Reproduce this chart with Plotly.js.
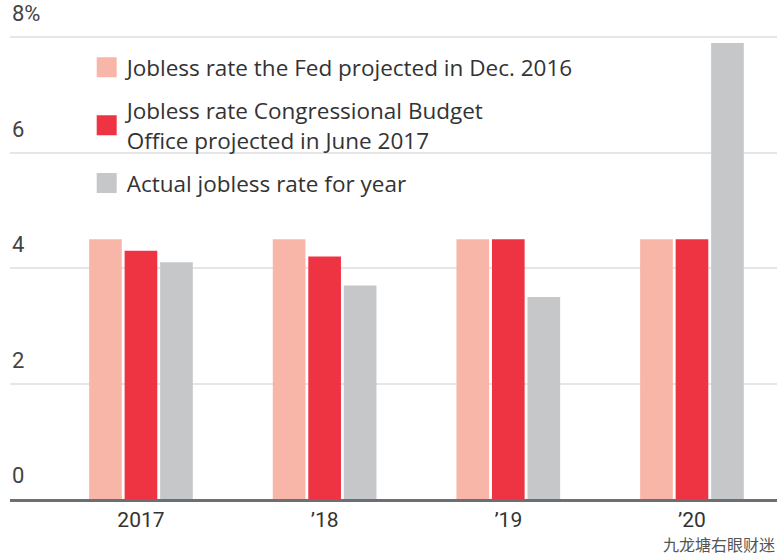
<!DOCTYPE html>
<html><head><meta charset="utf-8">
<script src="https://cdn.plot.ly/plotly-3.0.1.min.js"></script>
<style>html,body{margin:0;padding:0;background:#fff}#chart{width:777px;height:555px}</style>
</head><body><div id="chart"></div>
<script>
const years = ["2017", "’18", "’19", "’20"];
const fedProjected = [4.5, 4.5, 4.5, 4.5];
const cboProjected = [4.3, 4.2, 4.5, 4.5];
const actualRate = [4.1, 3.7, 3.5, 7.9];
const seriesNames = [
  "Jobless rate the Fed projected in Dec. 2016",
  "Jobless rate Congressional Budget<br>Office projected in June 2017",
  "Actual jobless rate for year"
];
const seriesColors = ["#f8b6a9", "#ee3443", "#c6c7c9"];
const yTickVals = [0, 2, 4, 6, 8];
const yTickText = ["0", "2", "4", "6", "8%"];
const watermark = "九龙塘右眼财迷";

const seriesValues = [fedProjected, cboProjected, actualRate];
const FONT = "'Open Sans', Roboto, sans-serif";
const TICKFONT = "Roboto, 'Open Sans', sans-serif";

const traces = [];
seriesValues.forEach((vals, i) => {
  traces.push({
    type: "bar", x: years, y: vals, name: seriesNames[i],
    marker: {color: seriesColors[i]}, showlegend: false, hoverinfo: "x+y"
  });
});
seriesValues.forEach((vals, i) => {
  traces.push({
    type: "scatter", mode: "markers", x: [null], y: [null], name: seriesNames[i],
    legendgroup: "g" + i,
    marker: {symbol: "square", size: 16, color: seriesColors[i], line: {color: seriesColors[i], width: 4}},
    showlegend: true, hoverinfo: "skip"
  });
});

const yLabelAnns = yTickVals.map((v, i) => ({
  xref: "paper", yref: "y", x: 0, y: v, xanchor: "left", yanchor: "bottom",
  yshift: 9, xshift: 0, showarrow: false, text: yTickText[i],
  font: {family: TICKFONT, size: 22, color: "#444"}
}));

const layout = {
  width: 777, height: 555,
  margin: {l: 10, r: 0, t: 36, b: 56},
  paper_bgcolor: "#fff", plot_bgcolor: "rgba(0,0,0,0)",
  font: {family: FONT, color: "#333", size: 18},
  barmode: "group", bargap: 0.42, bargroupgap: 0.08,
  showlegend: true,
  legend: {
    x: 0.1, y: 0.978, xanchor: "left", yanchor: "top",
    bgcolor: "rgba(0,0,0,0)", traceorder: "grouped", tracegroupgap: 11,
    font: {family: FONT, size: 22.5, color: "#333"}
  },
  xaxis: {
    type: "category", range: [-0.713, 3.463],
    showline: true, linecolor: "#6b6e72", linewidth: 3,
    ticks: "", showgrid: false, fixedrange: true,
    tickfont: {family: TICKFONT, size: 21, color: "#333"}
  },
  yaxis: {
    range: [0, 8.02], tickvals: yTickVals, showticklabels: false,
    showgrid: true, gridcolor: "#e6e6e6", gridwidth: 2,
    zeroline: false, showline: false, ticks: "", fixedrange: true
  },
  annotations: yLabelAnns.concat([{
    xref: "paper", yref: "paper", x: 1, y: 0, yshift: -59, xanchor: "right", yanchor: "bottom",
    text: watermark, showarrow: false,
    font: {family: "'Noto Sans CJK SC', sans-serif", size: 16, color: "#555"}
  }])
};
Plotly.newPlot("chart", traces, layout, {displayModeBar: false, staticPlot: true});
</script></body></html>
